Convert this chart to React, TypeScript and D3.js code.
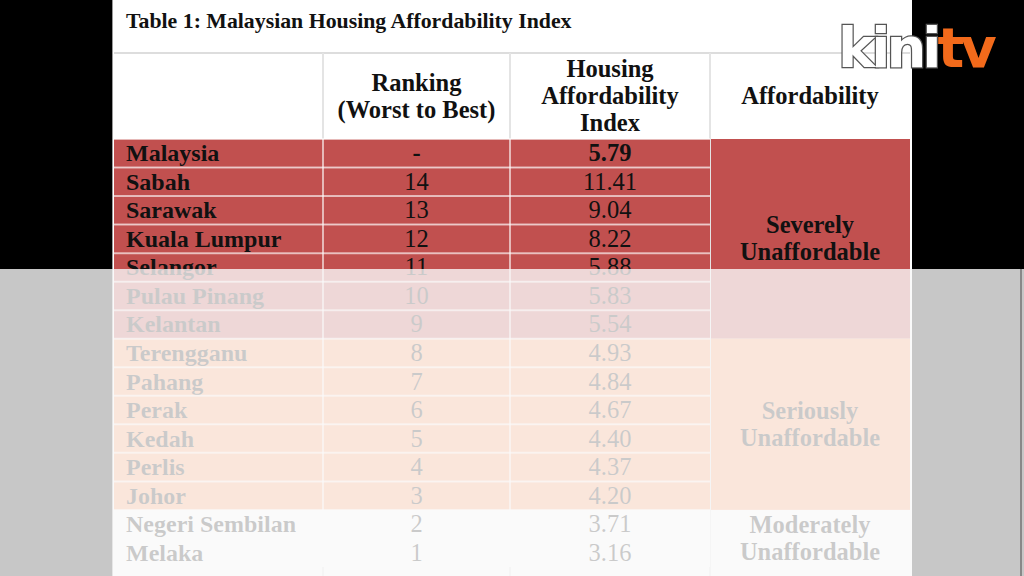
import React, { useEffect, useRef } from "react";
import * as d3 from "d3";

// table data
const states = [
  "Malaysia", "Sabah", "Sarawak", "Kuala Lumpur", "Selangor", "Pulau Pinang",
  "Kelantan", "Terengganu", "Pahang", "Perak", "Kedah", "Perlis", "Johor",
  "Negeri Sembilan", "Melaka",
];
const rankings = ["-", "14", "13", "12", "11", "10", "9", "8", "7", "6", "5", "4", "3", "2", "1"];
const indexValues = [5.79, 11.41, 9.04, 8.22, 5.88, 5.83, 5.54, 4.93, 4.84, 4.67, 4.4, 4.37, 4.2, 3.71, 3.16];
const affordability = [
  "Severely", "Severely", "Severely", "Severely", "Severely", "Severely", "Severely",
  "Seriously", "Seriously", "Seriously", "Seriously", "Seriously", "Seriously",
  "Moderately", "Moderately",
];
const headers = [[], ["Ranking", "(Worst to Best)"], ["Housing", "Affordability", "Index"], ["Affordability"]];
const title = "Table 1: Malaysian Housing Affordability Index";

const App = () => {
  const ref = useRef<SVGSVGElement>(null);

  useEffect(() => {
    const svg = d3.select(ref.current);
    svg.selectAll("*").remove();
    const W = 1024, H = 576;
    const serif = "'Liberation Serif', 'Times New Roman', serif";

    svg.append("rect").attr("width", W).attr("height", H).attr("fill", "#000");

    // paper
    svg.append("rect").attr("x", 112).attr("y", 0).attr("width", 800).attr("height", H).attr("fill", "#fff");
    svg.append("line").attr("x1", 112.5).attr("x2", 112.5).attr("y1", 0).attr("y2", H).attr("stroke", "#999");

    const colEdges = [114, 323, 510, 710, 910];
    const headTop = 53, headBottom = 139;

    const y = d3.scaleBand<string>().domain(states).range([headBottom, 567]).padding(0);

    const fillOf = (a: string) =>
      a === "Severely" ? "#c1504f" : a === "Seriously" ? "#ff9a66" : "#ffffff";

    svg.append("text").attr("x", 126).attr("y", 28).attr("font-family", serif)
      .attr("font-weight", "bold").attr("font-size", 21.8).attr("fill", "#111").text(title);

    // header
    svg.append("line").attr("x1", colEdges[0]).attr("x2", colEdges[4]).attr("y1", headTop).attr("y2", headTop)
      .attr("stroke", "#ddd").attr("stroke-width", 2);
    colEdges.slice(1, 4).forEach((cx) => {
      svg.append("line").attr("x1", cx).attr("x2", cx).attr("y1", headTop).attr("y2", H)
        .attr("stroke", "#e4e4e4").attr("stroke-width", 2);
    });
    headers.forEach((lines, i) => {
      const cx = (colEdges[i] + colEdges[i + 1]) / 2;
      const n = lines.length;
      const mid = (headTop + headBottom) / 2 + 8;
      lines.forEach((t, j) => {
        svg.append("text").attr("x", cx).attr("y", mid + (j - (n - 1) / 2) * 27)
          .attr("text-anchor", "middle").attr("font-family", serif).attr("font-weight", "bold")
          .attr("font-size", 24.5).attr("fill", "#111").text(t);
      });
    });

    // row cells (first three columns)
    const rows = svg.append("g");
    states.forEach((s, i) => {
      const y0 = y(s)!;
      const h = y.bandwidth();
      rows.append("rect").attr("x", colEdges[0]).attr("y", y0).attr("width", colEdges[3] - colEdges[0])
        .attr("height", h).attr("fill", fillOf(affordability[i]));
      rows.append("line").attr("x1", colEdges[0]).attr("x2", colEdges[3]).attr("y1", y0).attr("y2", y0)
        .attr("stroke", "#fff").attr("stroke-opacity", 0.6).attr("stroke-width", 2);
      const base = y0 + h / 2 + 8;
      rows.append("text").attr("x", 126).attr("y", base).attr("font-family", serif)
        .attr("font-weight", "bold").attr("font-size", 24).attr("fill", "#111").text(s);
      rows.append("text").attr("x", (colEdges[1] + colEdges[2]) / 2).attr("y", base)
        .attr("text-anchor", "middle").attr("font-family", serif).attr("font-weight", i === 0 ? "bold" : "normal")
        .attr("font-size", 24.5).attr("fill", "#111").text(rankings[i]);
      rows.append("text").attr("x", (colEdges[2] + colEdges[3]) / 2).attr("y", base)
        .attr("text-anchor", "middle").attr("font-family", serif).attr("font-weight", i === 0 ? "bold" : "normal")
        .attr("font-size", 24.5).attr("fill", "#111").text(d3.format(".2f")(indexValues[i]));
    });
    colEdges.slice(1, 3).forEach((cx) => {
      rows.append("line").attr("x1", cx).attr("x2", cx).attr("y1", headBottom).attr("y2", 567)
        .attr("stroke", "#fff").attr("stroke-opacity", 0.6).attr("stroke-width", 2);
    });

    // merged affordability cells
    const groups: { name: string; from: number; to: number }[] = [];
    affordability.forEach((a, i) => {
      const last = groups[groups.length - 1];
      if (last && last.name === a) last.to = i;
      else groups.push({ name: a, from: i, to: i });
    });
    groups.forEach((g) => {
      const y0 = y(states[g.from])!;
      const y1 = y(states[g.to])! + y.bandwidth();
      svg.append("rect").attr("x", colEdges[3] + 1).attr("y", y0).attr("width", colEdges[4] - colEdges[3] - 1)
        .attr("height", y1 - y0).attr("fill", fillOf(g.name));
      const cy = (y0 + y1) / 2;
      [g.name, "Unaffordable"].forEach((t, j) => {
        svg.append("text").attr("x", (colEdges[3] + colEdges[4]) / 2).attr("y", cy + 8 + (j - 0.5) * 27)
          .attr("text-anchor", "middle").attr("font-family", serif).attr("font-weight", "bold")
          .attr("font-size", 24.5).attr("fill", "#111").text(t);
      });
    });

    // logo
    const logo = svg.append("text").attr("x", 838).attr("y", 67).attr("font-family", "'DejaVu Sans', sans-serif")
      .attr("font-weight", "bold").attr("font-size", 56).attr("letter-spacing", -4);
    logo.append("tspan").attr("fill", "#fff").attr("stroke", "#555").attr("stroke-width", 2.5)
      .attr("paint-order", "stroke").text("kini");
    logo.append("tspan").attr("fill", "#f26a1b").text("tv");

    // translucent video overlay on lower half
    svg.append("rect").attr("x", 0).attr("y", 269).attr("width", W).attr("height", H - 269)
      .attr("fill", "#f9f9f9").attr("fill-opacity", 0.8);
    svg.append("line").attr("x1", 1021).attr("x2", 1021).attr("y1", 269).attr("y2", H)
      .attr("stroke", "#888").attr("stroke-width", 2);
  }, []);

  return (
    <svg ref={ref} width={1024} height={576}
      style={{ position: "absolute", left: 0, top: 0, display: "block" }} />
  );
};

export default App;
